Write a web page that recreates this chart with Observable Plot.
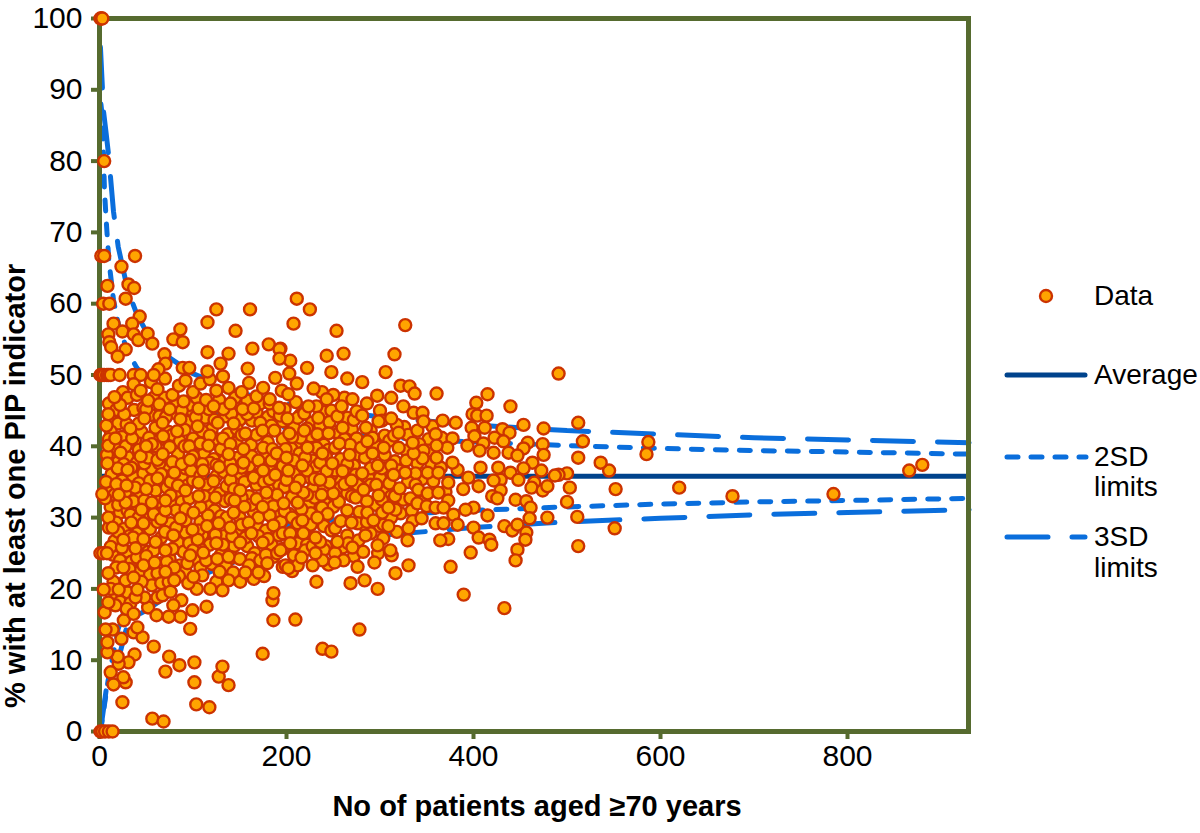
<!DOCTYPE html>
<html>
<head>
<meta charset="utf-8">
<script src="https://cdn.jsdelivr.net/npm/d3@7"></script>
<script src="https://cdn.jsdelivr.net/npm/@observablehq/plot@0.6"></script>
<style>
html,body{margin:0;padding:0;background:#fff;width:1200px;height:833px;overflow:hidden}
#wrap{position:relative;width:1200px;height:833px;font-family:"Liberation Sans",Arial,sans-serif}
#legend{position:absolute;left:0;top:0;width:1200px;height:833px;pointer-events:none}
#legend div{position:absolute;left:1094px;font-size:28px;line-height:30px;color:#000;white-space:nowrap}
#legend svg{position:absolute;left:0;top:0}
</style>
</head>
<body>
<div id="wrap"><div id="chart"></div><div id="legend"></div></div>
<script>
const yTicks = [0,10,20,30,40,50,60,70,80,90,100];
const xTicks = [0,200,400,600,800];
const xMax = 929.4;
const average = 35.8;

const upper3n = [1,3.2,4.3,7,9.6,15,20,30,40,50,75,100,150,200,300,400,500,600,700,800,930];
const upper3v = [96,90,87,84,81,72.9,68,62,58.5,56.1,52.4,50.2,47.5,46,44.1,43,42.2,41.7,41.2,40.9,40.5];
const upper2n = [1.5,3.2,5.3,7,10,15,20,30,40,50,75,100,150,200,300,400,500,600,700,800,930];
const upper2v = [88,86,76,72,66.1,60.5,57.2,53.3,51,49.4,46.9,45.4,43.6,42.6,41.3,40.6,40.1,39.7,39.4,39.2,38.9];
const lower2n = [1,9,20,30,40,50,75,100,150,200,300,400,500,600,700,800,930];
const lower2v = [0,7,14.4,18.3,20.6,22.2,24.7,26.2,28,29,30.3,31,31.5,31.9,32.2,32.4,32.7];
const lower3n = [1,9,20,31,50,75,100,150,200,300,400,500,600,700,800,930];
const lower3v = [0,7.6,10,15.6,17,19.2,21.4,24.1,25.6,27.5,28.6,29.4,29.9,30.4,30.7,31.1];

const farRight = [[866,36.6],[880,37.4],[785,33.3],[677,33],[620,34.2],[587,40.6],[585,38.9],[552,34],[551,28.5],[545,36.6],[536,37.7],[517,40.7],[512,43.3],[512,38.4],[511,30.1],[512,26],[503,34.2],[500,36.2],[500,32.2],[491,50.2],[491,36],[487,35.9]];

const topLeft = [[1,100],[2,100],[3,100],[5,80],[2,66.7],[5,66.7],[38,66.7],[23.5,65.2],[8.5,62.5],[31,62.7],[37,62.2],[28,60.7],[4,60],[10.5,60],[125,59.2],[161,59.2],[115.5,57.4],[43,58.2],[15,57.2],[35,57.2],[145.5,56.2],[86.5,56.4],[79,55],[89,54.6],[9.5,55.7],[10.5,54.6],[12.5,53.9],[24.5,56.1],[36.5,55.7],[41.5,54.9],[51.5,55.8],[56.5,54.4],[28,53.6],[19.5,52.6],[69.5,52.9],[115.5,53.2],[138,53],[163.5,53.7],[181,54.3],[192.5,53.6],[192.5,52.3],[70.5,51.6],[63,50.8],[58,50],[89,51],[96,51],[115.5,50.5],[129.5,51.6],[158.5,50.9],[1,50],[3,50],[5,50],[8,50],[10,50],[12,50],[21.5,50],[36.5,50],[44,50],[36.5,48.7],[16,46.9],[44,47.8]];

const rightMass = [[211,60.7],[225,59.2],[207.5,57.2],[253.5,56.2],[327,57],[243,52.7],[261,53],[315.5,52.9],[248,50.4],[306,50.4],[265,49.5],[281,49],[222,51],[204,52],[203,50.2],[193.5,53.7],[322,48.5],[331.5,48.4],[337,47.4],[360.5,47.4],[297,47.1],[312,46.8],[325,45.6],[415,47.3],[403,46.1],[439.5,45.6],[399,44.5],[404,44.3],[414,44.3],[453.5,43],[475,42.5],[367,43.6],[381,43.3],[398,42.6],[412,42.6],[336,44.7],[345.5,44.7],[346.5,43.5],[431,42.4],[438.5,41.9],[359.5,41.7],[401,41.4],[377.5,41.1],[422.5,41.2],[432,40.7],[474,40.3],[458,40.5],[453.5,39.7],[475,38.8],[393.5,40.1],[410.5,40.4],[421.5,39.1],[437.5,39.1],[447,38.7],[406.5,39.4],[372,39.8],[360.5,40.1],[346.5,39.4],[360.5,38.4],[345.5,38.3],[463,37.7],[453.5,36.9],[472.5,36.6],[439.5,36.3],[426.5,37],[407.5,37],[383,36.7],[377.5,37.7],[394.5,35.6],[448,35.3],[429,35.3],[421.5,35.2],[465,34.9],[373,34.9],[405.5,34.4],[357,35.1],[351,36.3],[362.5,36.3],[327,36.3],[314.5,36],[462,34.2],[474,33.8],[479,34.4],[389,34],[429,33.8],[420,33],[425.5,32.7],[445,32.5],[456.5,32.3],[461,31.4],[341,33.9],[351,33.4],[362.5,33.5],[332.5,32.7],[373,32.4],[340,32],[350,31.6],[359.5,31.4],[368,31.4],[321,34.1],[298.5,33.1],[400,31.4],[391.5,31.1],[415,30.3],[460,29.9],[479,30],[378.5,30.4],[344.5,29.9],[359.5,29.2],[368,29.2],[383,29],[400,28.6],[433,28.8],[441.5,28.2],[447,29],[456.5,27.9],[455.5,26.9],[405.5,27.2],[417,26.9],[419,26.2],[373,27],[364.5,26.8],[447,25.5],[445,24],[397,25.1],[375.5,23.1],[389.5,19.2],[433,17.3],[330.5,28.5],[329.5,26.8],[330.5,23.3],[316.5,22.2],[312.5,24.7],[311,25.4],[294,23.7],[276,23.1],[283.5,21.2],[268.5,20.8],[297.5,20],[232,21],[209.5,15.7],[278,14.3],[238.5,11.6],[248,11.2],[309,28.8],[303.5,27.1],[297.5,26.1],[316.5,31.1],[286.5,30.7],[277,26.8],[284.5,27.5],[270.5,25.8],[261,24],[251.5,23.7],[238.5,24],[228,23.3],[212,23.3],[199,23.3],[202,22.9],[216,24.4],[231,25],[254.5,26.6],[231,27.2],[218,27.8],[204,26.4],[193.5,25.4],[217,29.6],[233,30],[258,29.5],[269.5,29.3],[293,29.6],[302.5,30.7],[309,31.4],[274,32.8],[282.5,33.9],[250,33.4],[237.5,33.2],[218,33.5],[209.5,34.2],[197,32],[212,32.1],[246,34.9],[236,35.3],[269.5,35.2],[260,36.5],[281,36.2],[297.5,37.3],[249,37.6],[217,37.3],[202,36.6],[238.5,39],[267.5,38.8],[222.5,39.8],[256.5,40.4],[286.5,40.7],[320,39.8],[336,39],[335,40.5],[320,41.9],[233,41.7],[245,41.8],[203,41.8],[200,38.4],[219,42.2],[260,42.6],[298.5,43.5],[312,43.9],[281,44.3],[254.5,44.2],[234,44],[219,44.6],[201,43.9],[270.5,46.6],[259,45.6],[243,46.6],[223.5,45.6],[211,48.8],[229,48.1],[202,47.3]];

const lowerLeft = [[1,0],[3,0],[6,0],[10,0],[14,0],[24.5,4.1],[56.5,1.8],[68.5,1.4],[103.5,3.8],[117.5,3.4],[101.5,6.9],[138,6.5],[127.5,7.7],[131.5,9.1],[101.5,9.7],[70.5,8.4],[85.5,9.3],[74.5,10.5],[174.5,10.9],[58,11.9],[37.5,10.8],[31,9.7],[20.5,9.5],[28,6.9],[25.5,7.6],[15,6.6],[12,8.3],[19.5,10.5],[8.5,11.1],[8.5,12.5],[23.5,13],[36.5,13.9],[46,13.2],[40.5,14.6],[14,14.3],[6.5,14.3],[97,14.4],[186,15.6],[185,18.4],[186,19.4],[99.5,17],[114.5,17.5],[86.5,16.1],[74,16.1],[61,16.3],[87.5,18.4],[79,17.7],[67.5,19.1],[76,19.6],[5.5,16.7],[29,17.2],[17,17.7],[9.5,18.1],[36.5,16.5],[48,18.8],[38.5,18.8],[40.5,19.9],[20.5,19.9],[4.5,19.9],[95,20.8],[118.5,20],[131.5,19.8],[150.5,21],[80,21.2],[70.5,22.4],[36.5,21.6],[25.5,23],[9.5,22.2],[47,23.3],[59,23.7],[100.5,21.7],[128.5,22.4],[156,22.3],[170,22.3],[179.5,23.6],[196,23.1],[1,25],[4,25],[8,25],[3,33.3],[9.5,30],[7.5,42.9],[9.5,44.5],[8.5,37.6],[14,28.6],[25.5,26.9],[38.5,25.7],[70.5,25.4],[60,26.6],[97,24.7],[111,25.1],[138,24.5],[150.5,26.5],[125,26.4],[105,26.9],[79,27.5],[174.5,26.5],[127.5,29.2],[140,28.6],[159.5,29.3],[186,28.9],[162.5,27.8],[86.5,29.9],[70.5,31],[47,29.2],[34,29.3],[45,31.1],[28,32.1],[50,34],[20.5,33.2],[56,32.1],[100.5,30.7],[99.5,28.3],[70.5,32.4],[106,33],[143.5,30.7],[155,31.5],[174.5,31.5],[144.5,32.4]];

const upperLeft = [[29,34.5],[19.5,36.9],[30,36.7],[62,35.5],[80,36.3],[111,36.6],[106,34.9],[142,36.7],[150.5,33.8],[178.5,33.5],[154,37.7],[170,38],[188,36],[175,36.6],[44,38.6],[67.5,38.9],[97,38.1],[138,38.9],[116.5,40.1],[50,40],[22.5,39.1],[9.5,40.1],[33,42.5],[17,41.1],[48,43.9],[26.5,44.5],[67.5,43.3],[86.5,43.8],[106,45.3],[105,42.8],[126.5,43.3],[132.5,45.2],[143.5,43.2],[156,41.8],[174.5,42.2],[187,42.2],[153,45.2],[182,46],[154,39.6],[189.5,39],[55,49],[62,48],[70,49.5],[78,47.2],[85,48.5],[92,49.2],[100,47.6],[108,48.8],[118,49.4],[125,47.8],[132,49.8],[138,48.2],[145,46.8],[152,47.6],[160,48.9],[168,47],[175,48.2],[182,46.6],[188,49.6],[195,47.8],[30,46.8],[40,47.2],[22,45.8],[52,46.4],[64,45.9],[75,45.2],[90,46.3],[114,46.5],[122,45.6],[140,46],[165,45.3],[192,45.4],[210,46.2],[238,47.6],[250,47.2],[275,44.9]];

const cloudFill = [[14,44],[20,43.2],[37,45.1],[55,44.4],[60,42.6],[74,42],[80,44.7],[94,43.4],[99,45],[113,44],[120,42.4],[137,41.7],[150,43.7],[163,43.6],[168,44.8],[180,44.1],[196,43.5],[208,42.6],[227,43.3],[240,44.8],[265,44],[270,42.4],[290,42.2],[305,41.5],[326,42.7],
[12,42.1],[24,41.3],[38,40.9],[45,42],[53,41.2],[65,41],[78,41.6],[86,40.7],[100,41.1],[110,42.1],[125,41],[130,39.6],[146,40.5],[162,40.2],[180,40.6],[196,41],[210,40.4],[226,41.4],[240,40.2],[250,42],[275,41.1],[296,40],[310,40.8],[330,41.6],[352,41],[366,41.2],
[15,39.2],[30,38.5],[40,37.7],[57,38.7],[60,40],[73,37.4],[84,38.9],[91,40],[105,38.7],[112,39],[122,38.2],[148,38.4],[160,37.2],[178,38.8],[190,37.8],[205,39.7],[214,39],[228,38],[245,39.5],[258,38.2],[276,38.9],[284,38.4],[305,38.8],[316,37.9],[340,37.6],[355,37.5],
[13,36.1],[24,35.2],[36,35.8],[47,36.2],[56,36.9],[70,35.4],[88,35.8],[92,36.9],[104,37],[118,37.7],[125,35.8],[133,36.4],[146,35.4],[160,35.3],[182,37.4],[195,35],[208,36.1],[225,35.6],[232,37.2],[255,35.3],[272,37.3],[288,35.5],[306,35.2],[320,36.6],[345,35.4],
[11,34],[16,33.2],[35,33.8],[42,34.8],[60,33.8],[72,34.2],[85,33.2],[94,34.5],[100,35.2],[118,34.2],[128,33.4],[136,34.4],[160,33],[168,34.6],[185,34],[192,34.6],[206,32.9],[228,34],[242,31.9],[258,34.2],[265,33.4],[290,34.6],[306,33.6],[325,32.5],
[12,31.5],[22,30.7],[38,31.4],[52,30.4],[62,30.6],[78,31.8],[88,32.2],[96,32.7],[115,32],[123,31],[134,32.3],[150,30],[165,30.8],[180,32.5],[190,30.8],[203,30.5],[224,31.8],[230,32.8],[250,31.5],[265,31],[278,30.8],[295,31.8],[322,30.6],
[18,29.3],[26,28.4],[40,27.8],[54,28.4],[62,29.4],[76,29.2],[92,27.9],[108,29.4],[116,30.3],[120,28],[133,27.4],[148,28.4],[168,29],[178,28.2],[194,29.4],[208,28.1],[224,28.8],[240,28.8],[248,28.2],[265,27.5],[285,28.6],[300,28.8],[318,28],
[16,26.7],[30,25.2],[44,26.4],[52,25.2],[66,27.2],[84,26.5],[90,25.2],[103,24.2],[118,26.2],[130,24.8],[144,26],[158,26],[166,25],[184,26.2],[192,27.5],[212,26.4],[222,26.2],[242,26],[260,25.8],[290,27.8],
[14,24.8],[22,24],[34,23.8],[42,22.3],[54,22],[65,23.6],[75,24.2],[86,23.3],[92,22.5],[108,23],[120,23.5],[135,23.3],[143,22.3],[163,24.3],[172,24],[186,24.5],[208,24.7],[220,25.4],[240,25.5],[272,24.6],
[15,21],[28,21.2],[18,19],[30,19.5],[56,20.5],[62,18.8],[45,21],[85,21.8],[110,21.9],[142,24.4],
[300,35.6],[292,39],[312,33],[265,37.5],[215,41.2],[248,36],[226,30.6],[198,34.3],[170,36],[134,38],[98,36.6],[64,37.6],[44,33],[32,27.4],[110,27.6],[150,36.2],[190,33.2],[240,34],[155,35],[125,37.4]];

const denseFill = [[10,46],[25,47.6],[47,45.4],[58,46.8],[70,46.8],[83,46.2],[96,45.8],[104,46.8],[128,46.5],[135,44.2],[158,46.4],[172,46],[186,44.9],[198,45.2],[215,44.4],[232,45.6],[248,45],[262,46.8],[286,46],[300,45],
[18,45.1],[29,43.1],[42,43.2],[50,45.2],[64,44.2],[71,44.1],[88,45],[91,42.3],[103,44.1],[117,45.2],[123,43.7],[141,44.6],[147,42.4],[158,44.5],[172,43.3],[184,42.9],[193,44.3],[212,44],[222,42.5],[236,43],[246,43.4],[256,41.8],[272,43.7],[285,42.6],[302,43.6],[318,43],[340,42.2],[356,42.8],
[10,41],[18,39.8],[28,40],[35,41.1],[42,39.5],[56,40.3],[68,41.4],[75,39.9],[83,42.1],[96,40],[108,40.4],[118,41.5],[132,41.1],[140,40.3],[152,41.6],[168,41.6],[175,39.8],[185,39.6],[199,39.6],[206,41.3],[232,39.8],[242,38.6],[252,39.8],[262,41],[268,40.2],[280,39.8],[292,41.2],[304,39.8],[315,41.5],[328,39.4],[342,40.3],[352,39.4],
[8,38.8],[20,37.8],[26,37.5],[34,37],[48,37.6],[52,38.4],[62,38.1],[78,37.8],[88,37.5],[100,38.6],[110,37.5],[128,37.1],[140,37.6],[152,37],[163,38.6],[184,38],[196,37.2],[208,38],[220,38.4],[236,37.7],[252,36.6],[264,36.2],[274,36],[290,36.9],[302,36.9],[312,37.3],[328,38],[338,36.2],[365,37],
[7,35],[18,34.7],[28,33.6],[38,34.2],[54,35.2],[66,36.1],[76,35],[84,34.5],[92,33.8],[108,35.9],[114,34.6],[122,35.1],[140,35.3],[144,34],[165,35.6],[176,35],[182,35.4],[200,35.3],[214,35.2],[222,36.6],[230,35.4],[243,36.5],[262,34.7],[276,34.6],[296,34.6],[310,34.8],[330,35],[338,34.6],[370,33.6],
[6,32.7],[20,31.8],[30,31],[36,32.3],[48,32.4],[64,32.2],[76,33.1],[82,31],[92,31.2],[108,31.5],[112,33],[124,32.8],[140,32.6],[152,32.8],[162,31.8],[168,32.6],[186,31.6],[198,30.9],[216,31.2],[222,33.2],[238,31.4],[256,32.2],[270,33],[286,32.3],[302,32.5],[316,33],[334,31],[347,32.3],
[10,28.6],[20,28],[33,30.4],[42,30],[58,30.5],[66,29.8],[82,28.6],[92,29.6],[106,28.2],[115,28.8],[130,30.2],[136,30],[152,29],[170,30],[182,30.3],[196,27.8],[206,30],[212,29.2],[226,29],[244,30.5],[252,28.5],[276,29.2],[286,29.4],[304,29],[312,30],[335,29.5],
[12,25.9],[24,25.8],[36,27.2],[47,27],[58,25.4],[70,28],[78,25.6],[96,26.4],[108,25.6],[124,27.6],[132,26.2],[142,27.4],[156,27.2],[170,27.4],[180,27],[196,25.6],[204,27.8],[228,26],[236,26.6],[252,25],[266,26.4],[282,25.2],[298,25],
[18,23],[32,22.8],[40,24.4],[50,24.6],[62,22.2],[72,23.8],[80,23],[94,23.6],[100,25.4],[114,24],[126,24.2],[150,24.2],[160,23.3],[178,24.8],[190,25],[206,22.5],[245,23.4],
[22,18.2],[12,20],[26,15.6],[33,18],[52,17.4],[66,20.8],[74,21],[104,20],[125,21],[138,21.2],[165,21.4],[176,21.8]];

const points = [...cloudFill, ...denseFill, ...upperLeft, ...lowerLeft, ...rightMass, ...topLeft, ...farRight].map(([n, pct]) => ({n, pct}));
const toRows = (ns, vs) => ns.map((n, i) => ({n, v: vs[i]}));

const olive = "#566B2F", blue = "#0A6EDC", navy = "#00438C", dotFill = "#FFA500", dotStroke = "#CC3300";

const plot = Plot.plot({
  width: 1200, height: 833,
  marginLeft: 99, marginRight: 232, marginTop: 18, marginBottom: 102,
  style: {background: "#fff", fontFamily: '"Liberation Sans",Arial,sans-serif', overflow: "visible"},
  x: {domain: [0, xMax], ticks: xTicks, label: null},
  y: {domain: [0, 100], ticks: yTicks, label: null},
  marks: [
    Plot.axisY(yTicks, {anchor: "left", tickSize: 8, tickPadding: 9, fontSize: 30, stroke: olive, strokeWidth: 4, fill: "#000", label: null, tickFormat: d => d}),
    Plot.axisX(xTicks, {anchor: "bottom", tickSize: 8, tickPadding: 5, fontSize: 30, stroke: olive, strokeWidth: 4, fill: "#000", label: null, tickFormat: d => d}),
    Plot.ruleY([average], {stroke: navy, strokeWidth: 5}),
    Plot.line(toRows(upper2n, upper2v), {x: "n", y: "v", stroke: blue, strokeWidth: 5, strokeDasharray: "11,13", strokeLinecap: "round", curve: "linear"}),
    Plot.line(toRows(lower2n, lower2v), {x: "n", y: "v", stroke: blue, strokeWidth: 5, strokeDasharray: "11,13", strokeLinecap: "round", curve: "linear"}),
    Plot.line(toRows(upper3n, upper3v), {x: "n", y: "v", stroke: blue, strokeWidth: 5, strokeDasharray: "41,24", strokeLinecap: "round", curve: "linear"}),
    Plot.line(toRows(lower3n, lower3v), {x: "n", y: "v", stroke: blue, strokeWidth: 5, strokeDasharray: "41,24", strokeLinecap: "round", curve: "linear"}),
    Plot.frame({stroke: olive, strokeWidth: 5}),
    Plot.dot(points, {x: "n", y: "pct", r: 6, fill: dotFill, stroke: dotStroke, strokeWidth: 2.4}),
    Plot.text(["% with at least one PIP indicator"], {frameAnchor: "left", rotate: -90, dx: -84, dy: 333, fontSize: 29, fontWeight: "bold", fill: "#000"}),
    Plot.text(["No of patients aged ≥70 years"], {frameAnchor: "bottom", dy: 84, dx: 3, fontSize: 29, fontWeight: "bold", fill: "#000"})
  ]
});
document.getElementById("chart").appendChild(plot);

const legendRows = [["Data", 281], ["Average", 360], ["2SD", 442], ["limits", 472], ["3SD", 522], ["limits", 553]];
const legend = document.getElementById("legend");
legend.innerHTML = `<svg width="1200" height="833">
<circle cx="1046" cy="296" r="6" fill="${dotFill}" stroke="${dotStroke}" stroke-width="2.4"/>
<line x1="1007" x2="1085" y1="375" y2="375" stroke="${navy}" stroke-width="5" stroke-linecap="round"/>
<line x1="1007" x2="1086" y1="457" y2="457" stroke="${blue}" stroke-width="5" stroke-dasharray="11,13" stroke-linecap="round"/>
<line x1="1007" x2="1085" y1="537" y2="537" stroke="${blue}" stroke-width="5" stroke-dasharray="41,24" stroke-linecap="round"/>
</svg>` + legendRows.map(([t, top]) => `<div style="top:${top}px">${t}</div>`).join("");
</script>
</body>
</html>
